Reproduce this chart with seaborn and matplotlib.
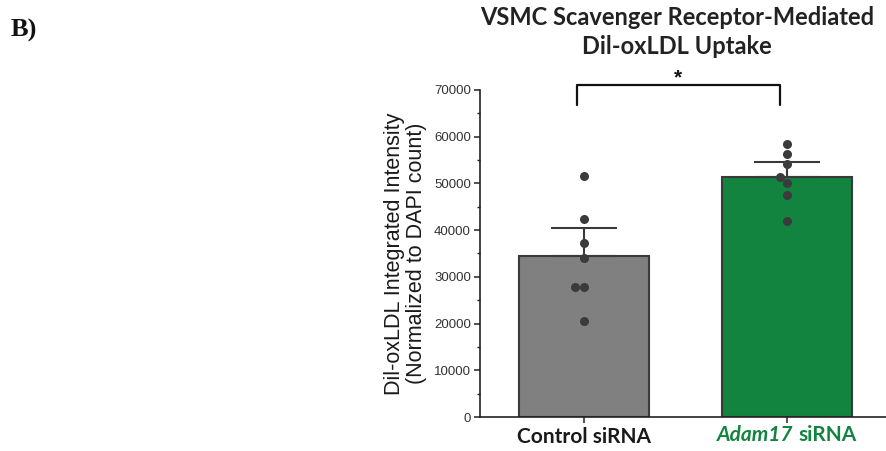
import numpy as np
import pandas as pd
import matplotlib
matplotlib.use("Agg")
import matplotlib.pyplot as plt
import seaborn as sns
from matplotlib.ticker import MultipleLocator
from matplotlib.offsetbox import TextArea, HPacker, AnnotationBbox

# ---- data ----
groups = ["Control siRNA", "Adam17 siRNA"]
control_points = [51680, 42300, 37210, 34070, 27910, 27910, 20550]
adam17_points = [58470, 56250, 54100, 51460, 50100, 47450, 41870]
error_up = [5900, 3200]          # upper error bar lengths
y_ticks = [0, 10000, 20000, 30000, 40000, 50000, 60000, 70000]
title = "VSMC Scavenger Receptor-Mediated\nDil-oxLDL Uptake"
ylabel = "Dil-oxLDL Integrated Intensity\n(Normalized to DAPI count)"
panel = "B)"
sig_label = "*"

gray = "#808080"
green = "#128440"
edge = "#3a3a3a"
dot = "#3b3b3b"

df = pd.DataFrame({
    "group": [groups[0]] * len(control_points) + [groups[1]] * len(adam17_points),
    "value": control_points + adam17_points,
})

sns.set_theme(style="white")
plt.rcParams["font.family"] = ["Liberation Sans", "DejaVu Sans"]

fig = plt.figure(figsize=(8.86, 4.51), dpi=100)
ax = fig.add_axes([480 / 886, 34 / 451, 406 / 886, 327 / 451])

sns.barplot(data=df, x="group", y="value", order=groups, palette=[gray, green],
            hue="group", legend=False, errorbar=None, width=0.64, saturation=1,
            edgecolor=edge, linewidth=1.5, ax=ax, zorder=2)

means = df.groupby("group")["value"].mean().reindex(groups).values
ax.errorbar(x=np.arange(len(groups)), y=means,
            yerr=[np.zeros(len(groups)), error_up], fmt="none",
            ecolor=edge, elinewidth=1.5, capsize=24, capthick=1.5, zorder=3)

sns.swarmplot(data=df, x="group", y="value", order=groups, color=dot,
              size=6.5, ax=ax, zorder=4)

ax.set_xlim(-0.515, 1.49)
ax.set_ylim(0, 70000)
ax.set_yticks(y_ticks)
ax.yaxis.set_minor_locator(MultipleLocator(5000))
ax.set_xlabel("")
ax.set_ylabel(ylabel, fontsize=15.5, color="#1a1a1a", labelpad=5, linespacing=1.08)

for s in ["top", "right"]:
    ax.spines[s].set_visible(False)
for s in ["left", "bottom"]:
    ax.spines[s].set_color("#222222")
    ax.spines[s].set_linewidth(1.2)

ax.tick_params(axis="y", which="major", direction="out", length=4.5, width=1.1,
               color="#222222", labelsize=9.5, labelcolor="#333333", pad=2, left=True)
ax.tick_params(axis="y", which="minor", direction="out", length=2.5, width=1.0,
               color="#222222", left=True)
ax.tick_params(axis="x", which="major", direction="out", length=4, width=1.1,
               color="#222222", bottom=True, pad=3)

ax.set_xticks(range(len(groups)))
ax.set_xticklabels([groups[0], ""], fontfamily="Lato", fontweight="bold",
                   fontsize=15, color="#1a1a1a")

# mixed-style second tick label
name, rest = groups[1].split(" ", 1)
ta1 = TextArea(name, textprops=dict(family="Lato", weight="bold", style="italic",
                                    color=green, size=15))
ta2 = TextArea(rest, textprops=dict(family="Lato", weight="bold", color=green, size=15))
box = HPacker(children=[ta1, ta2], align="baseline", pad=0, sep=4)
ab = AnnotationBbox(box, (1, 0), xycoords=("data", "axes fraction"),
                    xybox=(0, -6), boxcoords="offset points",
                    box_alignment=(0.5, 1), frameon=False, pad=0,
                    annotation_clip=False)
ax.add_artist(ab)

# significance bracket
shift = 0.035
y_low, y_high = 66800, 71100
x0, x1 = 0 - shift, 1 - shift
ax.plot([x0, x0, x1, x1], [y_low, y_high, y_high, y_low], color="#111111",
        lw=1.6, clip_on=False, zorder=5)
ax.text((x0 + x1) / 2, y_high - 600, sig_label, ha="center", va="bottom",
        fontsize=15, fontweight="bold", color="#111111", clip_on=False)

fig.text(677 / 886, 1 - 6 / 451, title, ha="center", va="top",
         fontfamily="Lato", fontweight="bold", fontsize=17, color="#222222",
         linespacing=1.32)
fig.text(11 / 886, 1 - 30 / 451, panel, ha="left", va="center",
         fontfamily="Liberation Serif", fontweight="bold", fontsize=19, color="#111111")

fig.savefig("out.png", dpi=100)
